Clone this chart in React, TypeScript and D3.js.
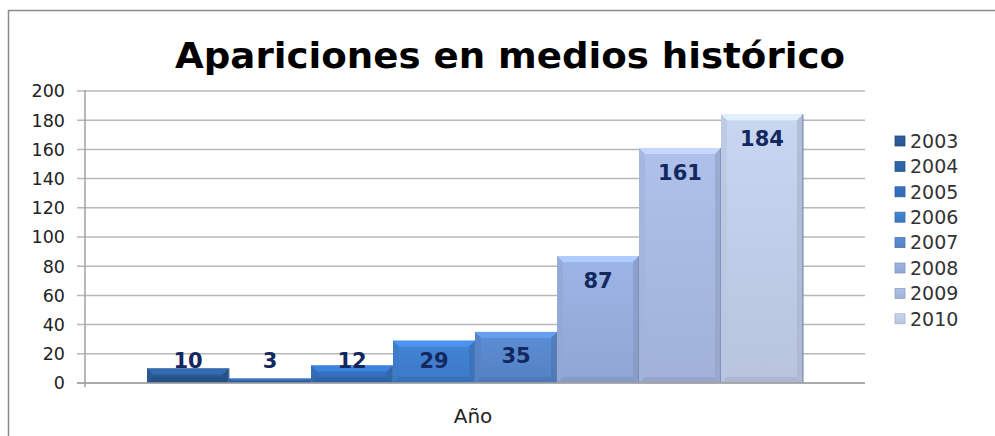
import React from 'react';
import * as d3 from 'd3';

const years = ['2003', '2004', '2005', '2006', '2007', '2008', '2009', '2010'];
const counts = [10, 3, 12, 29, 35, 87, 161, 184];
const yTicks = [0, 20, 40, 60, 80, 100, 120, 140, 160, 180, 200];
const colors = ['#2a5a95', '#2e64a8', '#346fbb', '#3f7ecd', '#5887cc', '#96addc', '#a8b9e0', '#c0cde8'];
const category = 'Año';
const title = 'Apariciones en medios histórico';

const W = 995;
const H = 436;
const font = '"DejaVu Sans", Verdana, sans-serif';

function App() {
  const margin = { left: 85, right: 130, top: 91, bottom: 53 };
  const plotRight = W - margin.right;
  const plotBottom = H - margin.bottom;

  const y = d3.scaleLinear().domain([0, 200]).range([plotBottom, margin.top]);
  const x0 = d3.scaleBand().domain([category]).range([margin.left, plotRight]).paddingInner(0).paddingOuter(0.0945);
  const x1 = d3.scaleBand().domain(years).range([0, x0.bandwidth()]).padding(0);

  const bevel = 6;

  return (
    <svg width={W} height={H} style={{ position: 'absolute', left: 0, top: 0, background: '#fff' }}>
      <defs>
        {years.map((yr, i) => {
          const c = d3.color(colors[i]) as d3.RGBColor;
          return (
            <linearGradient key={yr} id={`g${yr}`} x1="0" y1="0" x2="0" y2="1">
              <stop offset="0%" stopColor={c.brighter(0.12).formatHex()} />
              <stop offset="100%" stopColor={c.darker(0.12).formatHex()} />
            </linearGradient>
          );
        })}
      </defs>

      {/* outer frame */}
      <rect x={8.5} y={10.5} width={1000} height={500} fill="none" stroke="#8a8a8a" strokeWidth={1.5} />

      <text x={510} y={68} textAnchor="middle" fontFamily={font} fontWeight="bold" fontSize={35}
        textLength={670} lengthAdjust="spacingAndGlyphs" fill="#000">
        {title}
      </text>

      {/* gridlines */}
      {yTicks.map(t => (
        <line key={t} x1={margin.left - 8} x2={plotRight} y1={y(t)} y2={y(t)} stroke="#b8b8b8" strokeWidth={1.5} />
      ))}
      {yTicks.map(t => (
        <text key={'l' + t} x={65} y={y(t)} dy="0.36em" textAnchor="end" fontFamily={font} fontSize={17.5} fill="#222">
          {t}
        </text>
      ))}
      <line x1={margin.left} x2={margin.left} y1={margin.top - 1} y2={plotBottom + 4} stroke="#a0a0a0" strokeWidth={1.5} />

      {/* bars */}
      {counts.map((v, i) => {
        const bx = (x0(category) as number) + (x1(years[i]) as number);
        const bw = x1.bandwidth();
        const top = y(v);
        const h = plotBottom - top;
        const bv = Math.min(bevel, h / 2);
        const c = d3.color(colors[i]) as d3.RGBColor;
        const light = c.brighter(0.45).formatHex();
        const dark = c.darker(0.35).formatHex();
        const side = c.darker(0.1).formatHex();
        return (
          <g key={years[i]}>
            <rect x={bx} y={top} width={bw} height={h} fill={`url(#g${years[i]})`} />
            <polygon points={`${bx},${top} ${bx + bw},${top} ${bx + bw - bv},${top + bv} ${bx + bv},${top + bv}`} fill={light} />
            <polygon points={`${bx},${top} ${bx + bv},${top + bv} ${bx + bv},${plotBottom - bv} ${bx},${plotBottom}`} fill={side} opacity={0.7} />
            <polygon points={`${bx + bw},${top} ${bx + bw - bv},${top + bv} ${bx + bw - bv},${plotBottom - bv} ${bx + bw},${plotBottom}`} fill={dark} opacity={0.7} />
            <polygon points={`${bx},${plotBottom} ${bx + bv},${plotBottom - bv} ${bx + bw - bv},${plotBottom - bv} ${bx + bw},${plotBottom}`} fill={dark} opacity={0.8} />
            <line x1={bx + bw} x2={bx + bw} y1={top} y2={plotBottom} stroke="#6c7fa8" strokeWidth={1} />
          </g>
        );
      })}

      <line x1={margin.left - 8} x2={plotRight} y1={plotBottom} y2={plotBottom} stroke="#a0a0a0" strokeWidth={1.5} />

      {/* value labels */}
      {counts.map((v, i) => {
        const cx = (x0(category) as number) + (x1(years[i]) as number) + x1.bandwidth() / 2;
        const ly = Math.min(y(v) + 24, plotBottom - 23);
        return (
          <text key={'v' + i} x={cx} y={ly} dy="0.36em" textAnchor="middle" fontFamily={font} fontWeight="bold" fontSize={21} fill="#142860">
            {v}
          </text>
        );
      })}

      <text x={473} y={423} textAnchor="middle" fontFamily={font} fontSize={20} fill="#222">
        {category}
      </text>

      {/* legend */}
      {years.map((yr, i) => {
        const ly = 141 + i * 25.4;
        return (
          <g key={'lg' + yr}>
            <rect x={895} y={ly - 5} width={10} height={10} fill={`url(#g${yr})`} stroke={(d3.color(colors[i]) as d3.RGBColor).darker(0.4).formatHex()} strokeWidth={0.8} />
            <text x={910} y={ly} dy="0.36em" fontFamily={font} fontSize={19} fill="#333">
              {yr}
            </text>
          </g>
        );
      })}
    </svg>
  );
}

export default App;
